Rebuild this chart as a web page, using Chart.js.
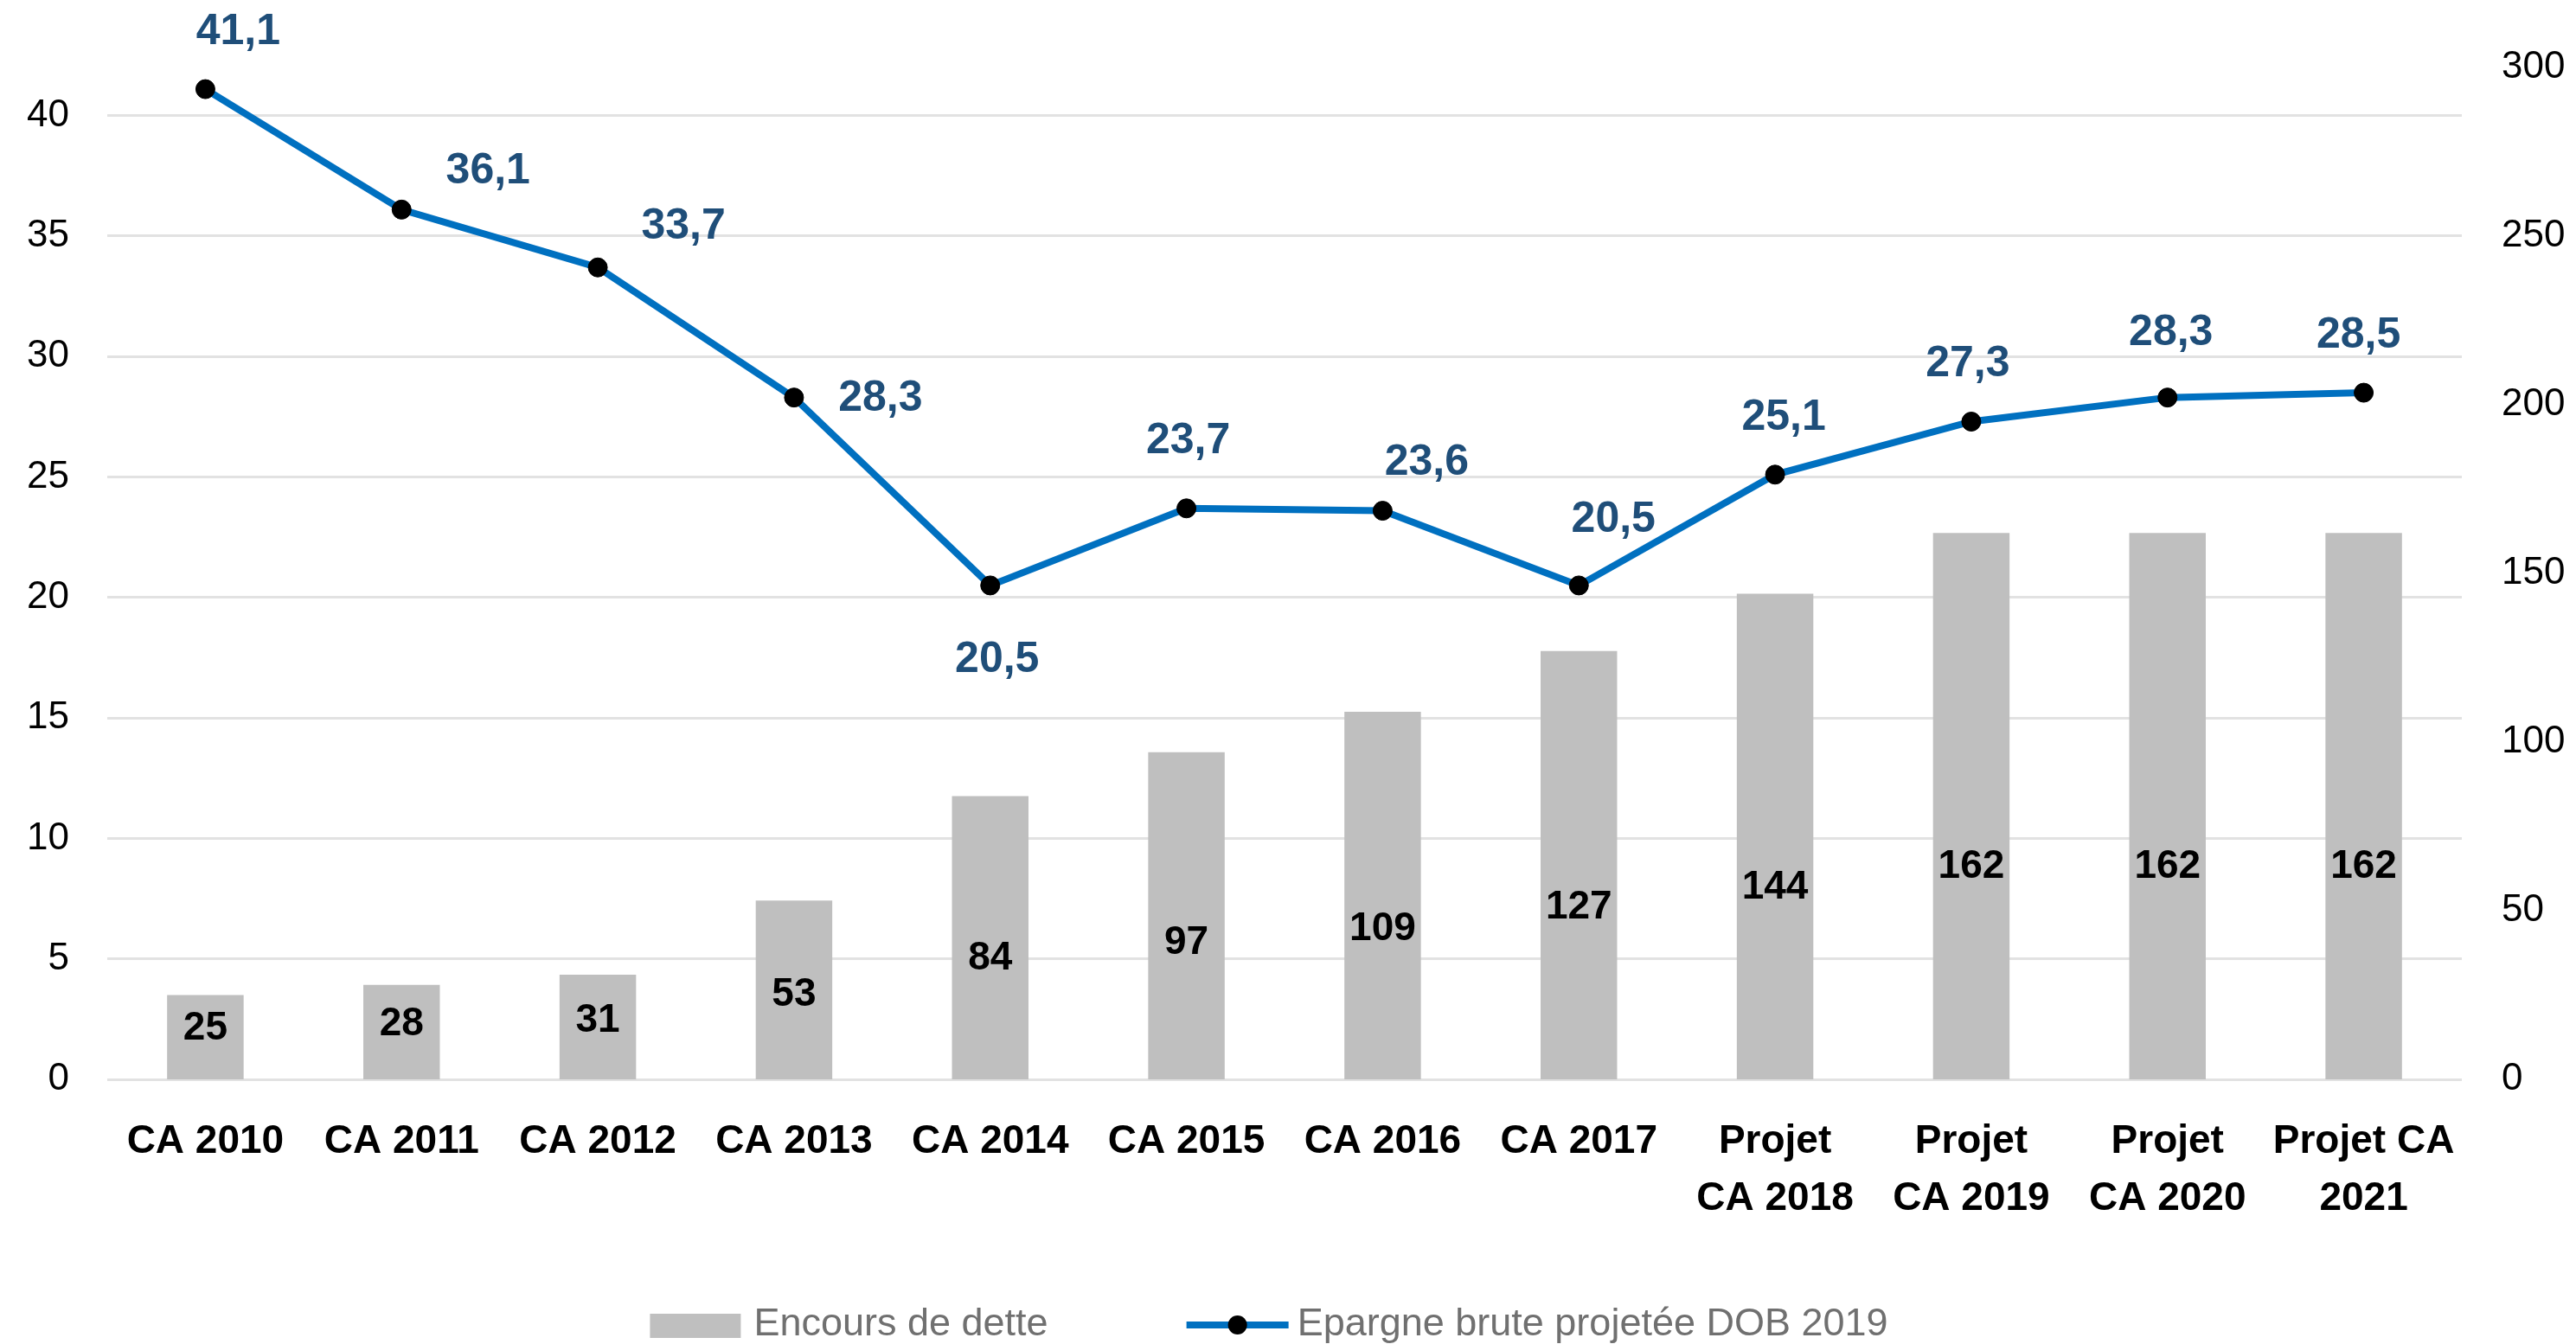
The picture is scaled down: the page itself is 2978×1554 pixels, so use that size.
<!DOCTYPE html>
<html>
<head>
<meta charset="utf-8">
<script src="https://cdn.jsdelivr.net/npm/chart.js@4.4.1/dist/chart.umd.min.js"></script>
<style>
  html, body { margin: 0; padding: 0; background: #fff; }
  canvas { display: block; }
</style>
</head>
<body>
<canvas id="chart" width="2978" height="1554"></canvas>
<script>
// données
const categories = [
  'CA 2010', 'CA 2011', 'CA 2012', 'CA 2013', 'CA 2014', 'CA 2015',
  'CA 2016', 'CA 2017', ['Projet', 'CA 2018'], ['Projet', 'CA 2019'],
  ['Projet', 'CA 2020'], ['Projet CA', '2021']
];
const encoursDette = [25, 28, 31, 53, 84, 97, 109, 127, 144, 162, 162, 162];
const epargneBrute = [41.1, 36.1, 33.7, 28.3, 20.5, 23.7, 23.6, 20.5, 25.1, 27.3, 28.3, 28.5];
const leftTicks = [0, 5, 10, 15, 20, 25, 30, 35, 40];
const rightTicks = [0, 50, 100, 150, 200, 250, 300];

const FONT = "'Liberation Sans', Arial, sans-serif";
const BLUE = '#0070C0';
const LABEL_BLUE = '#1F4E79';
const GREY_BAR = '#BFBFBF';

// décalage des étiquettes de la courbe (px)
const lineLabelOffsets = [
  [38, -66], [100, -44], [99, -47], [100, 2], [8, 86], [2, -78],
  [51, -55], [40, -76], [10, -66], [-4, -66], [4, -74], [-6, -66]
];

const fmt = v => v.toFixed(1).replace('.', ',');

const labelsPlugin = {
  id: 'valueLabels',
  afterDatasetsDraw(chart) {
    const ctx = chart.ctx;
    ctx.save();
    ctx.textAlign = 'center';
    ctx.textBaseline = 'middle';

    // étiquettes des barres
    const barMeta = chart.getDatasetMeta(1);
    ctx.font = 'bold 46px ' + FONT;
    ctx.fillStyle = '#000';
    barMeta.data.forEach((bar, i) => {
      const h = bar.base - bar.y;
      ctx.fillText(String(encoursDette[i]), bar.x, bar.base - (0.35 * h + 25));
    });

    // étiquettes de la courbe
    const lineMeta = chart.getDatasetMeta(0);
    ctx.font = 'bold 50px ' + FONT;
    ctx.fillStyle = LABEL_BLUE;
    lineMeta.data.forEach((pt, i) => {
      const [dx, dy] = lineLabelOffsets[i];
      ctx.fillText(fmt(epargneBrute[i]), pt.x + dx, pt.y + dy);
    });
    ctx.restore();
  }
};

const legendPlugin = {
  id: 'bottomLegend',
  afterDraw(chart) {
    const ctx = chart.ctx;
    ctx.save();
    ctx.font = '45px ' + FONT;
    ctx.textBaseline = 'middle';
    const t1 = 'Encours de dette';
    const t2 = 'Epargne brute projetée DOB 2019';
    const w1 = ctx.measureText(t1).width;
    const w2 = ctx.measureText(t2).width;
    const total = 105 + 15 + w1 + 160 + 118 + 10 + w2;
    let x = 1467 - total / 2;
    const y = 1532;

    ctx.fillStyle = GREY_BAR;
    ctx.fillRect(x, y - 13, 105, 28);
    x += 120;
    ctx.fillStyle = '#707070';
    ctx.fillText(t1, x, y);
    x += w1 + 160;

    ctx.strokeStyle = BLUE;
    ctx.lineWidth = 8;
    ctx.beginPath();
    ctx.moveTo(x, y);
    ctx.lineTo(x + 118, y);
    ctx.stroke();
    ctx.fillStyle = '#000';
    ctx.beginPath();
    ctx.arc(x + 59, y, 11, 0, Math.PI * 2);
    ctx.fill();
    x += 128;
    ctx.fillStyle = '#707070';
    ctx.fillText(t2, x, y);
    ctx.restore();
  }
};

const ctx = document.getElementById('chart').getContext('2d');

new Chart(ctx, {
  data: {
    labels: categories,
    datasets: [
      {
        type: 'line',
        label: 'Epargne brute projetée DOB 2019',
        data: epargneBrute,
        yAxisID: 'y',
        borderColor: BLUE,
        borderWidth: 8,
        pointRadius: 11,
        pointBackgroundColor: '#000',
        pointBorderColor: '#000',
        pointBorderWidth: 1,
        tension: 0,
        order: 0
      },
      {
        type: 'bar',
        label: 'Encours de dette',
        data: encoursDette,
        yAxisID: 'y1',
        backgroundColor: GREY_BAR,
        barPercentage: 0.39,
        categoryPercentage: 1,
        order: 1
      }
    ]
  },
  options: {
    responsive: false,
    devicePixelRatio: 1,
    animation: false,
    layout: { padding: { top: 78, bottom: 0, left: 0, right: 0 } },
    plugins: {
      legend: { display: false },
      tooltip: { enabled: false }
    },
    scales: {
      x: {
        grid: { display: false },
        border: { display: false },
        ticks: {
          color: '#000',
          padding: 31,
          maxRotation: 0,
          autoSkip: false,
          font: { family: FONT, size: 46, weight: 'bold', lineHeight: 1.435 }
        },
        afterFit(scale) { scale.height = 306; }
      },
      y: {
        position: 'left',
        min: 0,
        max: 42,
        border: { display: false },
        grid: { color: '#e2e2e2', lineWidth: 3, drawTicks: false },
        ticks: {
          stepSize: 5,
          color: '#000',
          padding: 44,
          font: { family: FONT, size: 44 }
        },
        afterBuildTicks(scale) {
          scale.ticks = leftTicks.map(v => ({ value: v }));
        },
        afterFit(scale) { scale.width = 124; }
      },
      y1: {
        position: 'right',
        min: 0,
        max: 300,
        border: { display: false },
        grid: { display: false, drawTicks: false },
        ticks: {
          stepSize: 50,
          color: '#000',
          padding: 46,
          font: { family: FONT, size: 44 }
        },
        afterBuildTicks(scale) {
          scale.ticks = rightTicks.map(v => ({ value: v }));
        },
        afterFit(scale) { scale.width = 132; }
      }
    }
  },
  plugins: [labelsPlugin, legendPlugin]
});
</script>
</body>
</html>
